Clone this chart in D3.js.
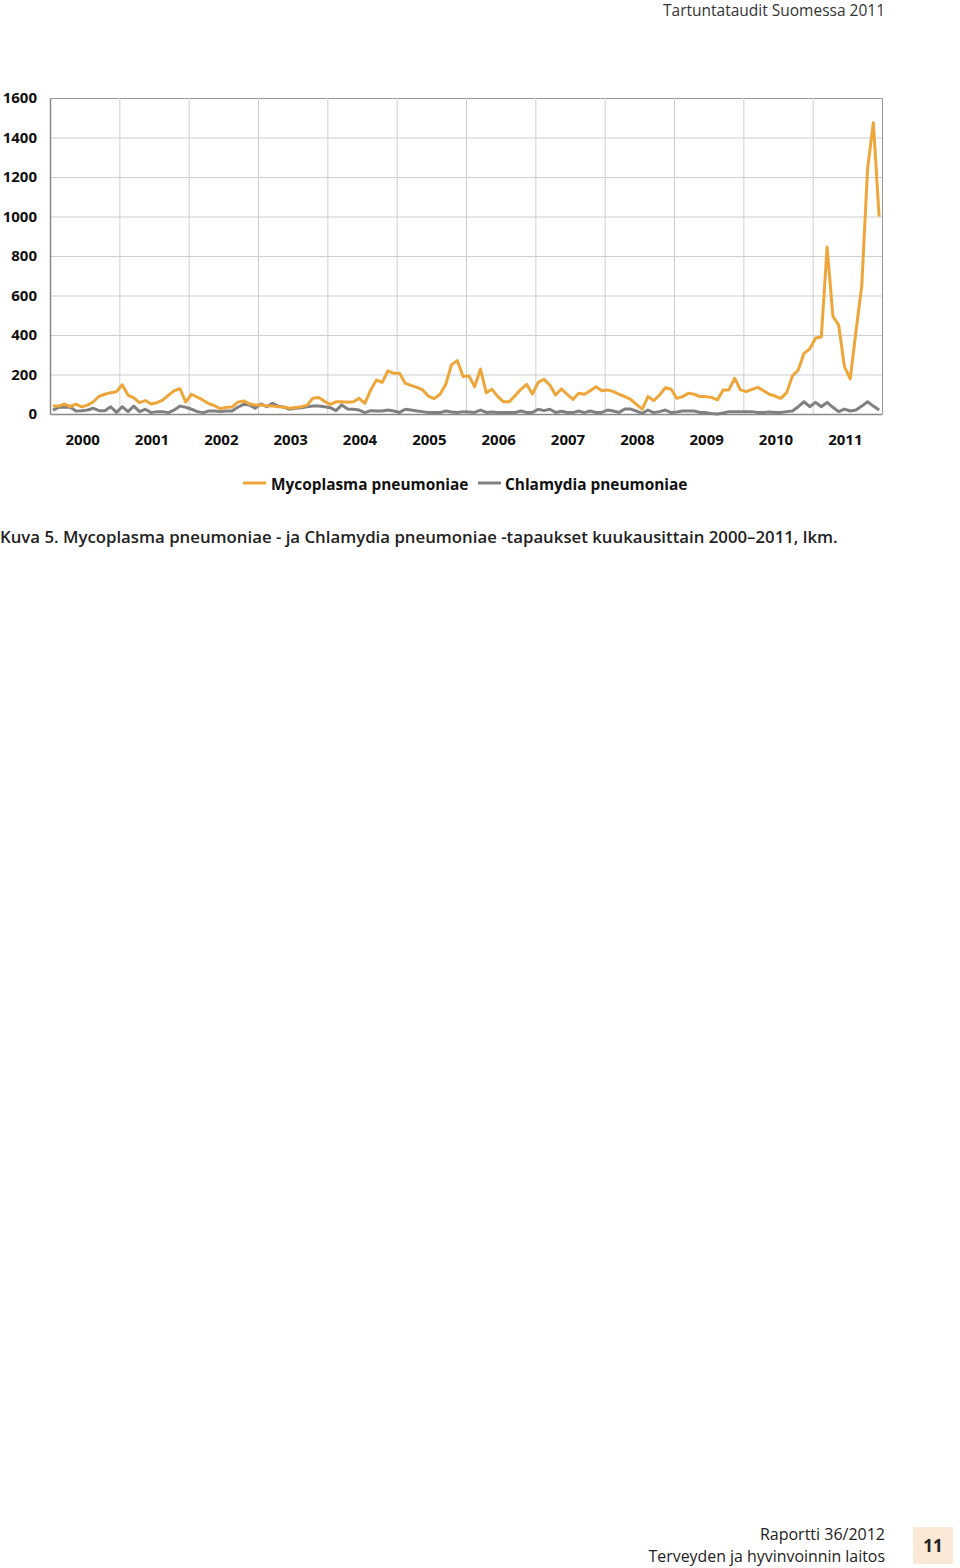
<!DOCTYPE html>
<html>
<head>
<meta charset="utf-8">
<script src="https://cdn.jsdelivr.net/npm/d3@7/dist/d3.min.js"></script>
<style>
  html, body { margin: 0; padding: 0; background: #fff; }
  svg { display: block; font-family: "Open Sans", "Noto Sans", sans-serif; }
</style>
</head>
<body>
<svg id="chart" width="960" height="1568"></svg>
<script>
// ---- data ----
const years = ["2000","2001","2002","2003","2004","2005","2006","2007","2008","2009","2010","2011"];
const yTicks = [0, 200, 400, 600, 800, 1000, 1200, 1400, 1600];
const seriesNames = ["Mycoplasma pneumoniae", "Chlamydia pneumoniae"];

// monthly cases, Jan 2000 - Dec 2011
const mycoplasma = [
  40, 40, 50, 38, 50, 36, 45, 62, 90, 100, 108, 113,
  148, 96, 82, 58, 68, 51, 57, 70, 95, 118, 128, 60,
  100, 85, 70, 52, 42, 26, 34, 35, 60, 66, 52, 45,
  45, 42, 40, 37, 35, 29, 33, 37, 45, 80, 84, 64,
  49, 62, 62, 59, 62, 79, 54, 122, 172, 160, 219, 206,
  206, 155, 145, 135, 122, 90, 78, 100, 150, 250, 270, 190,
  193, 138, 228, 108, 125, 88, 62, 62, 93, 125, 150, 101,
  160, 176, 147, 96, 127, 100, 74, 105, 100, 118, 138, 118,
  122, 113, 100, 88, 74, 49, 25, 88, 68, 96, 133, 125,
  79, 88, 105, 100, 88, 88, 84, 71, 122, 122, 181, 122,
  113, 125, 135, 118, 100, 91, 79, 108, 193, 223, 307, 330,
  385, 390, 845, 495, 450, 240, 178, 420, 650, 1240, 1475, 1000
];
const chlamydia = [
  20, 34, 34, 34, 15, 17, 20, 29, 17, 17, 37, 8,
  37, 12, 40, 12, 24, 7, 12, 12, 7, 20, 40, 34,
  24, 12, 7, 15, 15, 12, 15, 15, 34, 49, 46, 29,
  51, 37, 54, 40, 34, 24, 29, 32, 37, 40, 40, 37,
  32, 17, 46, 25, 24, 20, 7, 17, 15, 15, 20, 15,
  8, 24, 20, 15, 12, 7, 7, 7, 15, 10, 8, 12,
  10, 8, 20, 8, 10, 7, 7, 7, 8, 15, 8, 8,
  24, 17, 24, 8, 14, 8, 7, 15, 7, 15, 8, 8,
  20, 15, 8, 25, 25, 15, 3, 20, 7, 12, 20, 7,
  10, 15, 15, 15, 8, 7, 3, 0, 5, 12, 12, 12,
  12, 12, 8, 7, 10, 7, 8, 12, 15, 37, 62, 37,
  59, 37, 59, 34, 12, 25, 15, 20, 40, 62, 40, 20
];

const colors = ["#eea63a", "#808080"];

// ---- layout ----
const svg = d3.select("#chart");
const plotL = 50, plotR = 882, plotT = 98, plotB = 414;

const y = d3.scaleLinear().domain([0, 1600]).range([plotB, plotT]);
const xYear = d3.scaleBand().domain(years).range([plotL, plotR]);
const xMonth = d3.scaleBand().domain(d3.range(mycoplasma.length)).range([plotL, plotR]);
const mx = i => xMonth(i) + xMonth.bandwidth() / 2;

// header
svg.append("text").attr("x", 885).attr("y", 16).attr("text-anchor", "end")
  .attr("font-size", 15.5).attr("fill", "#333").text("Tartuntataudit Suomessa 2011");

// gridlines horizontal
svg.append("g").selectAll("line").data(yTicks.filter(d => d > 0)).join("line")
  .attr("x1", plotL).attr("x2", plotR)
  .attr("y1", d => y(d) + 0.5).attr("y2", d => y(d) + 0.5)
  .attr("stroke", d => d === 1600 ? "#9a9a9a" : "#cfcfcf").attr("stroke-width", 1);

// gridlines vertical (year boundaries)
svg.append("g").selectAll("line").data(years.slice(1).concat(["end"])).join("line")
  .attr("x1", d => (d === "end" ? plotR : xYear(d)) + 0.5)
  .attr("x2", d => (d === "end" ? plotR : xYear(d)) + 0.5)
  .attr("y1", plotT).attr("y2", plotB)
  .attr("stroke", d => d === "end" ? "#9a9a9a" : "#cfcfcf").attr("stroke-width", 1);

// y axis
const yAxis = svg.append("g").attr("transform", `translate(${plotL},0)`)
  .call(d3.axisLeft(y).tickValues(yTicks).tickFormat(d3.format("d")).tickSize(0).tickPadding(13));
yAxis.select(".domain").attr("stroke", "#888").attr("stroke-width", 1.5);
yAxis.selectAll("text").attr("font-size", 15).attr("font-weight", 700)
  .attr("fill", "#111").attr("font-family", "\"Open Sans\", sans-serif");

// x axis
const xAxis = svg.append("g").attr("transform", `translate(0,${plotB})`)
  .call(d3.axisBottom(xYear).tickSize(0).tickPadding(20));
xAxis.select(".domain").attr("stroke", "#888").attr("stroke-width", 1.5);
xAxis.selectAll("text").attr("font-size", 15).attr("font-weight", 700)
  .attr("fill", "#111").attr("dx", -2).attr("font-family", "\"Open Sans\", sans-serif");

// lines (chlamydia first, mycoplasma on top)
const line = d3.line().x((d, i) => mx(i)).y(d => y(d));
[chlamydia, mycoplasma].forEach((s, k) => {
  svg.append("path").datum(s).attr("d", line)
    .attr("fill", "none").attr("stroke", colors[1 - k]).attr("stroke-width", 3)
    .attr("stroke-linejoin", "round");
});

// legend
const legendPos = [{x: 243, tx: 271}, {x: 478, tx: 505}];
seriesNames.forEach((n, i) => {
  svg.append("line").attr("x1", legendPos[i].x).attr("x2", legendPos[i].x + 23)
    .attr("y1", 483).attr("y2", 483).attr("stroke", colors[i]).attr("stroke-width", 3);
  svg.append("text").attr("x", legendPos[i].tx).attr("y", 490)
    .attr("font-size", 15.4).attr("font-weight", 700).attr("fill", "#111").text(n);
});

// caption
svg.append("text").attr("x", 0).attr("y", 543).attr("font-size", 16.8).attr("font-weight", 600)
  .attr("fill", "#222")
  .text("Kuva 5. Mycoplasma pneumoniae - ja Chlamydia pneumoniae -tapaukset kuukausittain 2000\u20132011, lkm.");

// footer
svg.append("text").attr("x", 885).attr("y", 1540).attr("text-anchor", "end")
  .attr("font-size", 16).attr("fill", "#222").text("Raportti 36/2012");
svg.append("text").attr("x", 885).attr("y", 1562).attr("text-anchor", "end")
  .attr("font-size", 15.9).attr("fill", "#222").text("Terveyden ja hyvinvoinnin laitos");
svg.append("rect").attr("x", 913).attr("y", 1527).attr("width", 40).attr("height", 37)
  .attr("fill", "#fbe8d6");
svg.append("text").attr("x", 933).attr("y", 1552).attr("text-anchor", "middle")
  .attr("font-size", 17).attr("font-weight", 700).attr("fill", "#222").text("11");
</script>
</body>
</html>
